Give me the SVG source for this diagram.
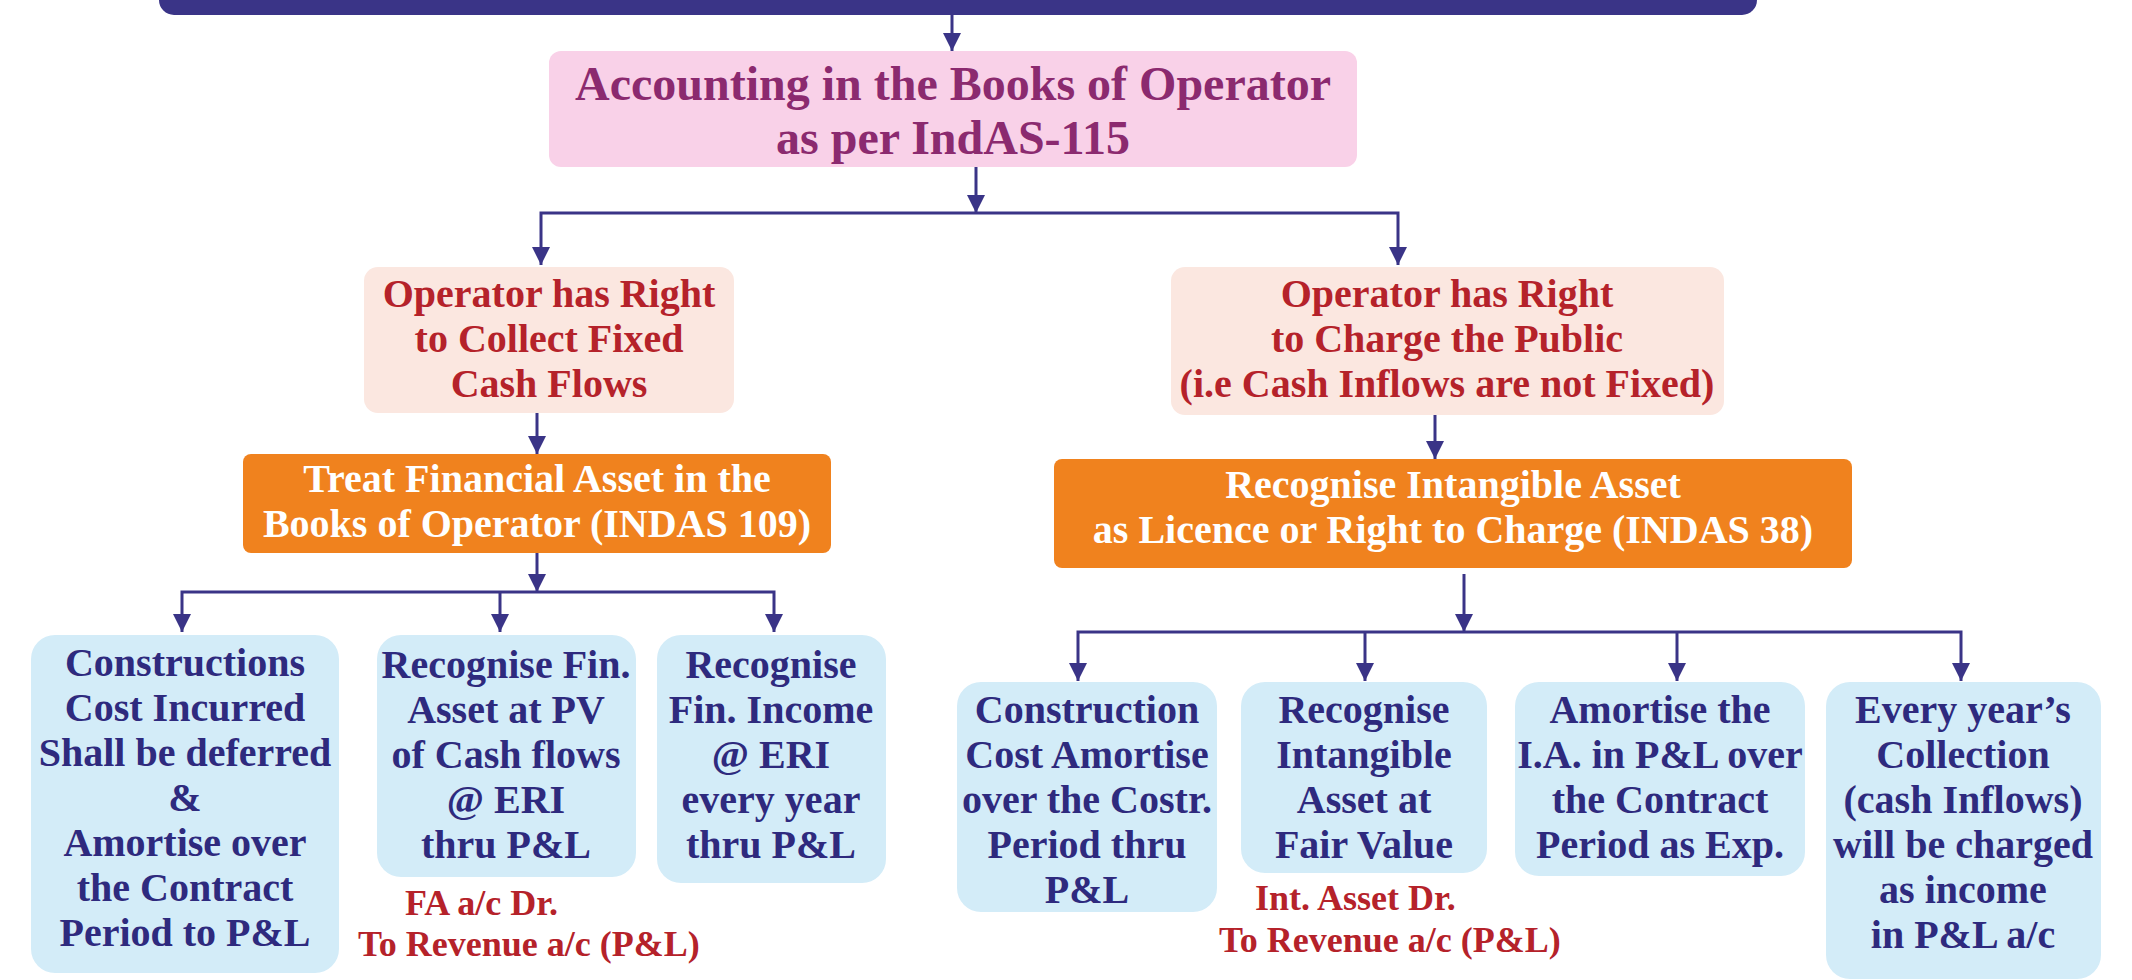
<svg xmlns="http://www.w3.org/2000/svg" width="2132" height="980" viewBox="0 0 2132 980">
<defs>
<style>
text{font-family:"Liberation Serif","Times New Roman",serif;font-weight:bold;text-anchor:middle}
.pk{fill:#f9d1e8}
.sal{fill:#fbe7e0}
.or{fill:#f0821e}
.bl{fill:#d3ecf8}
.tpk{fill:#8b2a6f;font-size:48px}
.tred{fill:#b5222a;font-size:40px}
.tw{fill:#ffffff;font-size:40px}
.tb{fill:#2e2a7e;font-size:40px}
.lbl{fill:#b5222a;font-size:36px;text-anchor:start}
.c{fill:none;stroke:#3a3487;stroke-width:3;marker-end:url(#ah)}
.cn{fill:none;stroke:#3a3487;stroke-width:3}
</style>
<marker id="ah" viewBox="0 0 18 18" refX="18" refY="9" markerWidth="18" markerHeight="18" markerUnits="userSpaceOnUse" orient="auto">
<path d="M0,0 L18,9 L0,18 z" fill="#3a3487"/>
</marker>
</defs>
<rect x="159" y="-30" width="1598" height="45" rx="15" fill="#3a3487"/>
<g id="connectors">
<path class="c" d="M952,15 V51"/>
<path class="c" d="M976,166 V213"/>
<path class="c" d="M976,213 H541 V265"/>
<path class="c" d="M976,213 H1398 V265"/>
<path class="c" d="M537,413 V454"/>
<path class="c" d="M537,553 V592"/>
<path class="c" d="M537,592 H182 V632"/>
<path class="c" d="M537,592 H774 V632"/>
<path class="c" d="M500,592 V632"/>
<path class="c" d="M1435,415 V459"/>
<path class="c" d="M1464,574 V632"/>
<path class="c" d="M1464,632 H1078 V681"/>
<path class="c" d="M1464,632 H1961 V681"/>
<path class="c" d="M1365,632 V681"/>
<path class="c" d="M1677,632 V681"/>
</g>
<g id="n-top">
<rect class="pk" x="549" y="51" width="808" height="116" rx="12"/>
<text class="tpk" x="953" y="100">Accounting in the Books of Operator</text>
<text class="tpk" x="953" y="154">as per IndAS-115</text>
</g>
<g id="n-fixed">
<rect class="sal" x="364" y="267" width="370" height="146" rx="14"/>
<text class="tred" x="549" y="307">Operator has Right</text>
<text class="tred" x="549" y="352">to Collect Fixed</text>
<text class="tred" x="549" y="397">Cash Flows</text>
</g>
<g id="n-public">
<rect class="sal" x="1171" y="267" width="553" height="148" rx="14"/>
<text class="tred" x="1447" y="307">Operator has Right</text>
<text class="tred" x="1447" y="352">to Charge the Public</text>
<text class="tred" x="1447" y="397">(i.e Cash Inflows are not Fixed)</text>
</g>
<g id="n-fa">
<rect class="or" x="243" y="454" width="588" height="99" rx="8"/>
<text class="tw" x="537" y="492">Treat Financial Asset in the</text>
<text class="tw" x="537" y="537">Books of Operator (INDAS 109)</text>
</g>
<g id="n-ia">
<rect class="or" x="1054" y="459" width="798" height="109" rx="8"/>
<text class="tw" x="1453" y="498">Recognise Intangible Asset</text>
<text class="tw" x="1453" y="543">as Licence or Right to Charge (INDAS 38)</text>
</g>
<g id="n-l1">
<rect class="bl" x="31" y="635" width="308" height="338" rx="24"/>
<text class="tb" x="185" y="676">Constructions</text>
<text class="tb" x="185" y="721">Cost Incurred</text>
<text class="tb" x="185" y="766">Shall be deferred</text>
<text class="tb" x="185" y="811">&amp;</text>
<text class="tb" x="185" y="856">Amortise over</text>
<text class="tb" x="185" y="901">the Contract</text>
<text class="tb" x="185" y="946">Period to P&amp;L</text>
</g>
<g id="n-l2">
<rect class="bl" x="377" y="635" width="259" height="242" rx="24"/>
<text class="tb" x="506" y="678">Recognise Fin.</text>
<text class="tb" x="506" y="723">Asset at PV</text>
<text class="tb" x="506" y="768">of Cash flows</text>
<text class="tb" x="506" y="813">@ ERI</text>
<text class="tb" x="506" y="858">thru P&amp;L</text>
</g>
<g id="lbl-l2">
<text class="lbl" x="405" y="915">FA a/c Dr.</text>
<text class="lbl" x="358" y="956">To Revenue a/c (P&amp;L)</text>
</g>
<g id="n-l3">
<rect class="bl" x="657" y="635" width="229" height="248" rx="24"/>
<text class="tb" x="771" y="678">Recognise</text>
<text class="tb" x="771" y="723">Fin. Income</text>
<text class="tb" x="771" y="768">@ ERI</text>
<text class="tb" x="771" y="813">every year</text>
<text class="tb" x="771" y="858">thru P&amp;L</text>
</g>
<g id="n-r1">
<rect class="bl" x="957" y="682" width="260" height="230" rx="24"/>
<text class="tb" x="1087" y="723">Construction</text>
<text class="tb" x="1087" y="768">Cost Amortise</text>
<text class="tb" x="1087" y="813">over the Costr.</text>
<text class="tb" x="1087" y="858">Period thru</text>
<text class="tb" x="1087" y="903">P&amp;L</text>
</g>
<g id="n-r2">
<rect class="bl" x="1241" y="682" width="246" height="191" rx="24"/>
<text class="tb" x="1364" y="723">Recognise</text>
<text class="tb" x="1364" y="768">Intangible</text>
<text class="tb" x="1364" y="813">Asset at</text>
<text class="tb" x="1364" y="858">Fair Value</text>
</g>
<g id="lbl-r2">
<text class="lbl" x="1255" y="910">Int. Asset Dr.</text>
<text class="lbl" x="1219" y="952">To Revenue a/c (P&amp;L)</text>
</g>
<g id="n-r3">
<rect class="bl" x="1515" y="682" width="290" height="194" rx="24"/>
<text class="tb" x="1660" y="723">Amortise the</text>
<text class="tb" x="1660" y="768">I.A. in P&amp;L over</text>
<text class="tb" x="1660" y="813">the Contract</text>
<text class="tb" x="1660" y="858">Period as Exp.</text>
</g>
<g id="n-r4">
<rect class="bl" x="1826" y="682" width="275" height="297" rx="24"/>
<text class="tb" x="1963" y="723">Every year’s</text>
<text class="tb" x="1963" y="768">Collection</text>
<text class="tb" x="1963" y="813">(cash Inflows)</text>
<text class="tb" x="1963" y="858">will be charged</text>
<text class="tb" x="1963" y="903">as income</text>
<text class="tb" x="1963" y="948">in P&amp;L a/c</text>
</g>
</svg>
